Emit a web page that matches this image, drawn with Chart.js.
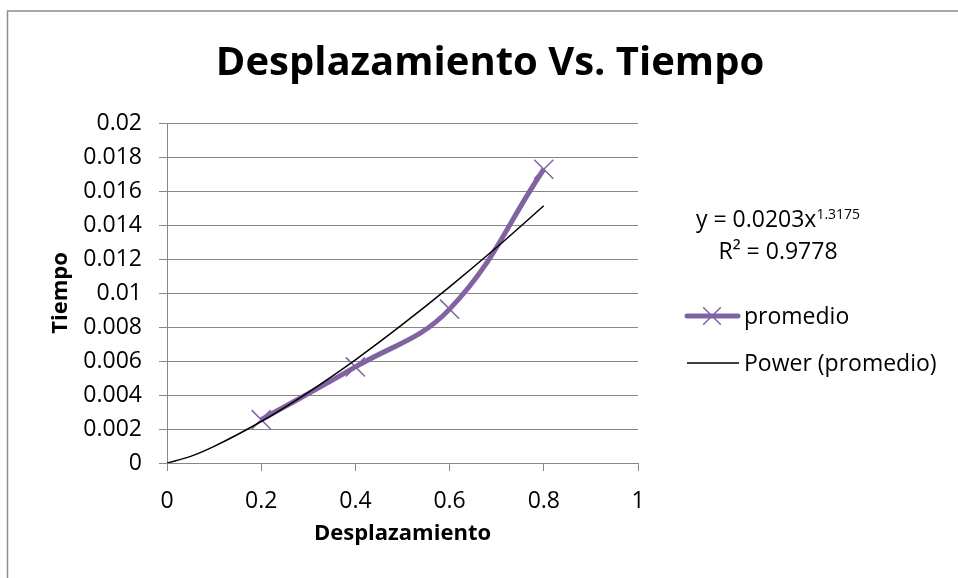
<!DOCTYPE html>
<html>
<head>
<meta charset="utf-8">
<script src="https://cdn.jsdelivr.net/npm/chart.js@4.4.0/dist/chart.umd.min.js"></script>
<style>
html,body{margin:0;padding:0;background:#fff;}
#wrap{position:relative;width:958px;height:578px;}
canvas{display:block;}
</style>
</head>
<body>
<div id="wrap"><canvas id="c" width="958" height="578"></canvas></div>
<script>
// ---- data ----
const chartTitle = 'Desplazamiento Vs. Tiempo';
const xAxisTitle = 'Desplazamiento';
const yAxisTitle = 'Tiempo';
const seriesName = 'promedio';
const trendName = 'Power (promedio)';
const trendEquationMain = 'y = 0.0203x';
const trendEquationExp = '1.3175';
const trendR2 = 'R² = 0.9778';

const desplazamiento = [0.2, 0.4, 0.6, 0.8];
const promedio = [0.00255, 0.00565, 0.00905, 0.01728];

// points read along the drawn power trendline
const trendX = [0, 0.05, 0.1, 0.2, 0.3, 0.4, 0.5, 0.6, 0.7, 0.8];
const trendY = [0, 0.00039, 0.00098, 0.00244, 0.00416, 0.00607, 0.00815, 0.01036, 0.01269, 0.01513];

const xTickLabels = ['0', '0.2', '0.4', '0.6', '0.8', '1'];
const yTickLabels = ['0', '0.002', '0.004', '0.006', '0.008', '0.01', '0.012', '0.014', '0.016', '0.018', '0.02'];

const FONT = "'Open Sans', 'Noto Sans', sans-serif";
const PURPLE = '#8064A2';
const GRID = '#868686';

const seriesPoints = desplazamiento.map((x, i) => ({x: x, y: promedio[i]}));
const trendPoints = trendX.map((x, i) => ({x: x, y: trendY[i]}));

const decorPlugin = {
  id: 'decor',
  beforeDraw(chart) {
    const ctx = chart.ctx;
    ctx.save();
    ctx.fillStyle = '#fff';
    ctx.fillRect(0, 0, chart.width, chart.height);
    ctx.strokeStyle = '#8c8c8c';
    ctx.lineWidth = 1.5;
    ctx.strokeRect(7.5, 11, 1000, 700);
    ctx.restore();
  },
  afterDraw(chart) {
    const ctx = chart.ctx;
    ctx.save();
    ctx.fillStyle = '#000';
    // title
    ctx.font = 'bold 40px ' + FONT;
    ctx.textAlign = 'center';
    ctx.textBaseline = 'alphabetic';
    ctx.fillText(chartTitle, 490, 75);

    // trendline equation
    ctx.textAlign = 'left';
    ctx.font = '23px ' + FONT;
    const wMain = ctx.measureText(trendEquationMain).width;
    ctx.font = '14px ' + FONT;
    const wExp = ctx.measureText(trendEquationExp).width;
    const cx = 778;
    let x0 = cx - (wMain + wExp) / 2;
    ctx.font = '23px ' + FONT;
    ctx.fillText(trendEquationMain, x0, 227);
    ctx.font = '14px ' + FONT;
    ctx.fillText(trendEquationExp, x0 + wMain, 219);
    ctx.font = '23px ' + FONT;
    ctx.textAlign = 'center';
    ctx.fillText(trendR2, cx, 259);

    // legend
    ctx.textAlign = 'left';
    ctx.strokeStyle = PURPLE;
    ctx.lineWidth = 5;
    ctx.lineCap = 'round';
    ctx.beginPath();
    ctx.moveTo(687, 316);
    ctx.lineTo(738, 316);
    ctx.stroke();
    ctx.lineCap = 'butt';
    ctx.lineWidth = 1.5;
    const r = 12.5, o = Math.cos(Math.PI / 4) * r;
    ctx.beginPath();
    ctx.moveTo(712 - o, 316 - o); ctx.lineTo(712 + o, 316 + o);
    ctx.moveTo(712 - o, 316 + o); ctx.lineTo(712 + o, 316 - o);
    ctx.stroke();
    ctx.fillText(seriesName, 744, 324);

    ctx.strokeStyle = '#000';
    ctx.lineWidth = 1.5;
    ctx.beginPath();
    ctx.moveTo(687, 363);
    ctx.lineTo(739, 363);
    ctx.stroke();
    ctx.fillText(trendName, 744, 371);
    ctx.restore();
  }
};

new Chart(document.getElementById('c'), {
  type: 'line',
  data: {
    datasets: [
      {
        label: trendName,
        data: trendPoints,
        borderColor: '#000',
        borderWidth: 1.5,
        pointRadius: 0,
        pointHoverRadius: 0,
        cubicInterpolationMode: 'monotone',
        fill: false,
        order: 0
      },
      {
        label: seriesName,
        data: seriesPoints,
        borderColor: PURPLE,
        backgroundColor: PURPLE,
        borderWidth: 5,
        tension: 0.4,
        pointStyle: 'crossRot',
        pointRadius: 13.5,
        pointBorderWidth: 1.5,
        pointBorderColor: PURPLE,
        fill: false,
        order: 1
      }
    ]
  },
  options: {
    responsive: false,
    animation: false,
    devicePixelRatio: 1,
    layout: {padding: {left: 8, right: 320, top: 123, bottom: 10}},
    plugins: {
      legend: {display: false},
      title: {display: false},
      tooltip: {enabled: false}
    },
    scales: {
      x: {
        type: 'linear',
        min: 0,
        max: 1,
        afterFit(scale) { scale.height = 105; },
        ticks: {
          stepSize: 0.2,
          autoSkip: false,
          maxRotation: 0,
          color: '#000',
          font: {family: FONT, size: 23},
          padding: 17,
          callback: (v, i) => xTickLabels[i]
        },
        grid: {drawOnChartArea: false, color: GRID, tickLength: 8, lineWidth: 1},
        border: {color: GRID, width: 1},
        title: {
          display: true,
          text: xAxisTitle,
          color: '#000',
          font: {family: FONT, size: 22, weight: 'bold'},
          padding: {top: 0, bottom: 21}
        }
      },
      y: {
        type: 'linear',
        min: 0,
        max: 0.02,
        afterFit(scale) { scale.width = 159; },
        ticks: {
          stepSize: 0.002,
          autoSkip: false,
          color: '#000',
          font: {family: FONT, size: 23},
          padding: 17,
          callback: (v, i) => yTickLabels[i]
        },
        grid: {color: GRID, tickLength: 8, lineWidth: 1},
        border: {color: GRID, width: 1},
        title: {
          display: true,
          text: yAxisTitle,
          color: '#000',
          font: {family: FONT, size: 22, weight: 'bold'},
          padding: {top: 40, bottom: 0}
        }
      }
    }
  },
  plugins: [decorPlugin]
});
</script>
</body>
</html>
